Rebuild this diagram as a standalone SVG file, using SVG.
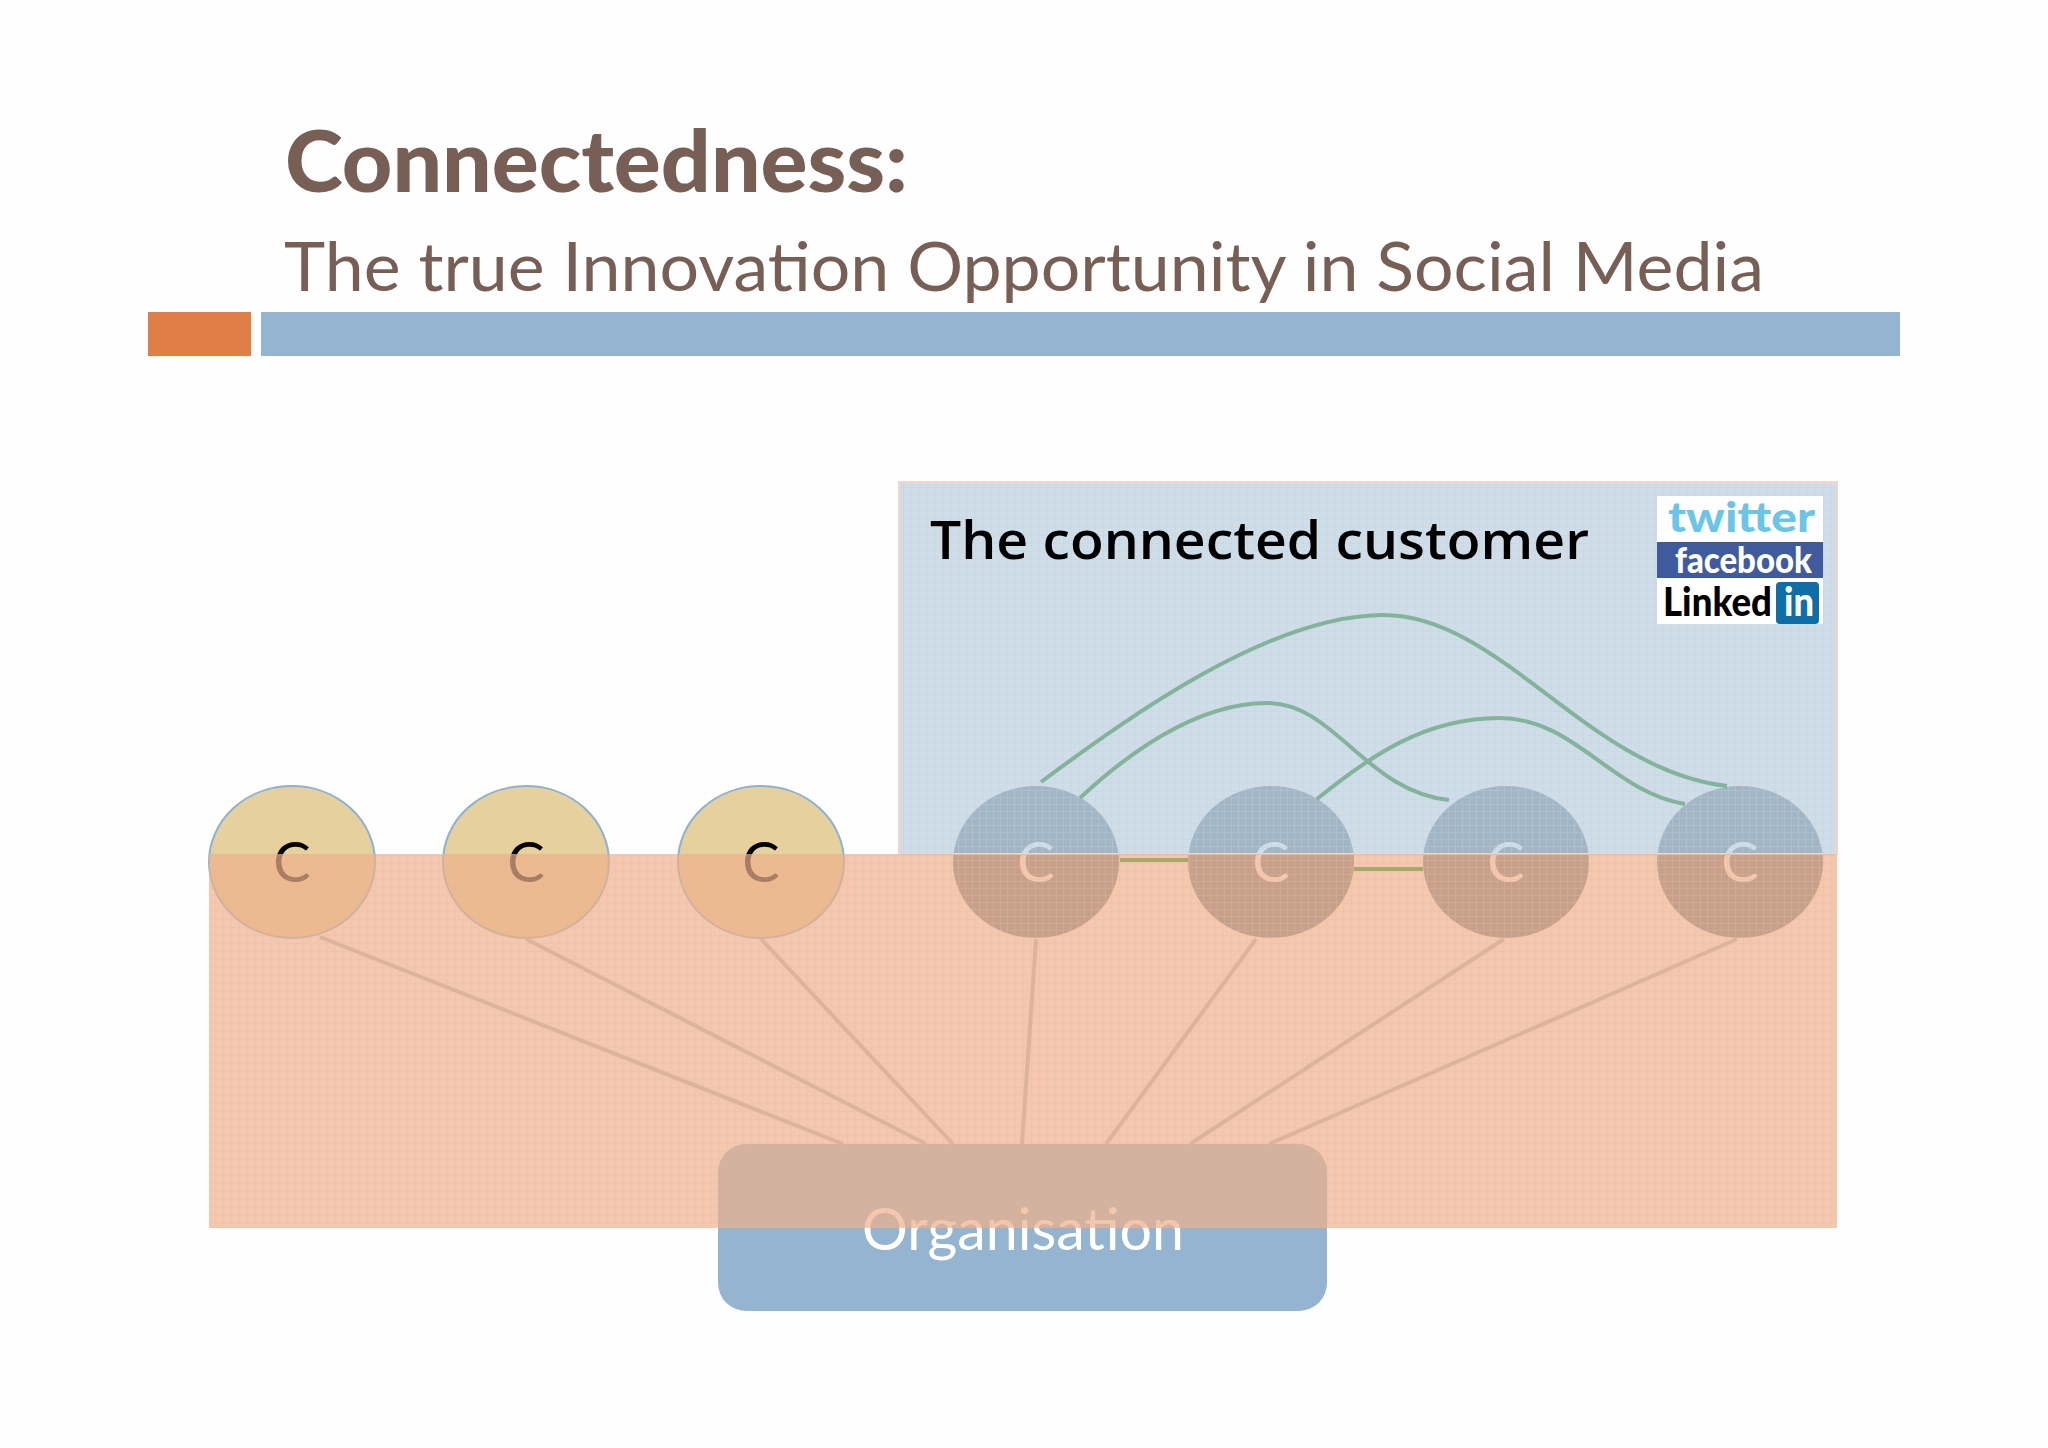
<svg xmlns="http://www.w3.org/2000/svg" width="2048" height="1448" viewBox="0 0 2048 1448">
<style>
.tt{font-family:"Lato","Noto Sans",sans-serif;fill:#775f55}
.c{font-family:"Lato","Noto Sans",sans-serif;font-size:56px;text-anchor:middle}
.cy{fill:#e6d09e;stroke:#8fb0cf;stroke-width:2}
.cd{fill:#6a7887}
.cg{fill:url(#g2)}
.spoke{stroke:#dcb39d;stroke-width:4;fill:none}
.curve{stroke:#83b39b;stroke-width:4;fill:none}
.link{stroke:#a9a86a;stroke-width:4;fill:none}
.logo{font-family:"Lato","Liberation Sans",sans-serif;font-weight:900}
</style>
<defs>
<pattern id="g1" width="8" height="8" patternUnits="userSpaceOnUse"><path d="M8 0V8M0 8H8" stroke="#e2a482" stroke-opacity=".22" stroke-width="1" fill="none"/></pattern>
<pattern id="g3" width="8" height="8" patternUnits="userSpaceOnUse"><path d="M8 0V8M0 8H8" stroke="#a9bfd2" stroke-opacity=".2" stroke-width="1" fill="none"/></pattern>
<pattern id="g2" width="7" height="7" patternUnits="userSpaceOnUse"><path d="M7 0V7M0 7H7" stroke="#fff" stroke-opacity=".35" stroke-width="1.5" fill="none"/></pattern>
</defs>
<rect width="2048" height="1448" fill="#fefefe"/>
<g id="header">
<rect x="148" y="312" width="103" height="44" fill="#df7f47"/>
<rect x="261" y="312" width="1639" height="44" fill="#94b4d0"/>
<text class="tt" x="285" y="192" font-size="86" font-weight="900" textLength="623" lengthAdjust="spacingAndGlyphs">Connectedness:</text>
<text class="tt" x="284" y="291" font-size="68" textLength="1480" lengthAdjust="spacingAndGlyphs">The true Innovation Opportunity in Social Media</text>
</g>
<g id="c1"><ellipse class="cy" cx="292" cy="862" rx="83" ry="76"/><text class="c" x="292" y="882">C</text></g>
<g id="c2"><ellipse class="cy" cx="526" cy="862" rx="83" ry="76"/><text class="c" x="526" y="882">C</text></g>
<g id="c3"><ellipse class="cy" cx="761" cy="862" rx="83" ry="76"/><text class="c" x="761" y="882">C</text></g>
<g id="c4"><ellipse class="cd" cx="1036" cy="862" rx="83" ry="76"/><ellipse class="cg" cx="1036" cy="862" rx="83" ry="76"/><text class="c" x="1036" y="882" fill="#fff">C</text></g>
<g id="c5"><ellipse class="cd" cx="1271" cy="862" rx="83" ry="76"/><ellipse class="cg" cx="1271" cy="862" rx="83" ry="76"/><text class="c" x="1271" y="882" fill="#fff">C</text></g>
<g id="c6"><ellipse class="cd" cx="1506" cy="862" rx="83" ry="76"/><ellipse class="cg" cx="1506" cy="862" rx="83" ry="76"/><text class="c" x="1506" y="882" fill="#fff">C</text></g>
<g id="c7"><ellipse class="cd" cx="1740" cy="862" rx="83" ry="76"/><ellipse class="cg" cx="1740" cy="862" rx="83" ry="76"/><text class="c" x="1740" y="882" fill="#fff">C</text></g>
<g id="organisation">
<rect x="718" y="1144" width="609" height="167" rx="28" fill="#94b4d0"/>
<text x="1023" y="1250" font-family="Lato,'Noto Sans',sans-serif" font-size="58" fill="#fff" text-anchor="middle" textLength="322" lengthAdjust="spacingAndGlyphs">Organisation</text>
</g>
<g id="panel-connected">
<rect x="899" y="482" width="938" height="372" fill="#bacede" fill-opacity=".7" stroke="#f5d5c8" stroke-width="2"/>
<rect x="899" y="482" width="938" height="372" fill="url(#g3)"/>
</g>
<g id="panel-organisation">
<rect x="209" y="854" width="1628" height="374" fill="#eeb08c" fill-opacity=".7"/>
<rect x="209" y="854" width="1628" height="374" fill="url(#g1)"/>
</g>
<g id="connectors">
<path class="spoke" d="M320 937L843 1144M526 939L926 1144M761 939L953 1144M1036 939L1022 1144M1256 939L1106 1144M1504 939L1190 1144M1737 939L1269 1144"/>
<path class="curve" d="M1041 782C1130 716 1270 615 1384 615C1500 615 1590 771 1727 786"/>
<path class="curve" d="M1080 798C1125 756 1195 703 1267 703C1335 703 1365 791 1449 800"/>
<path class="curve" d="M1317 799C1370 756 1425 718 1499 718C1575 718 1610 791 1685 804"/>
<path class="link" d="M1120 860H1188M1354 869H1423"/>
</g>
<g id="label-connected">
<text x="930" y="559" font-family="'Open Sans','Noto Sans',sans-serif" font-weight="600" font-size="53" fill="#000" textLength="659" lengthAdjust="spacingAndGlyphs">The connected customer</text>
</g>
<g id="logos">
<rect x="1657" y="496" width="166" height="128" fill="#fff"/>
<text class="logo" x="1668" y="532" font-size="42" fill="#6cc5e8" textLength="147" lengthAdjust="spacingAndGlyphs">twitter</text>
<rect x="1657" y="542" width="166" height="36" fill="#3f5b9e"/>
<text class="logo" x="1675" y="573" font-size="36" fill="#fff" textLength="137" lengthAdjust="spacingAndGlyphs">facebook</text>
<text class="logo" x="1663" y="616" font-size="40" fill="#000" textLength="109" lengthAdjust="spacingAndGlyphs">Linked</text>
<rect x="1776" y="582" width="43" height="42" rx="4" fill="#0e6ea5"/>
<text class="logo" x="1784" y="616" font-size="40" fill="#fff" textLength="30" lengthAdjust="spacingAndGlyphs">in</text>
</g>
</svg>
